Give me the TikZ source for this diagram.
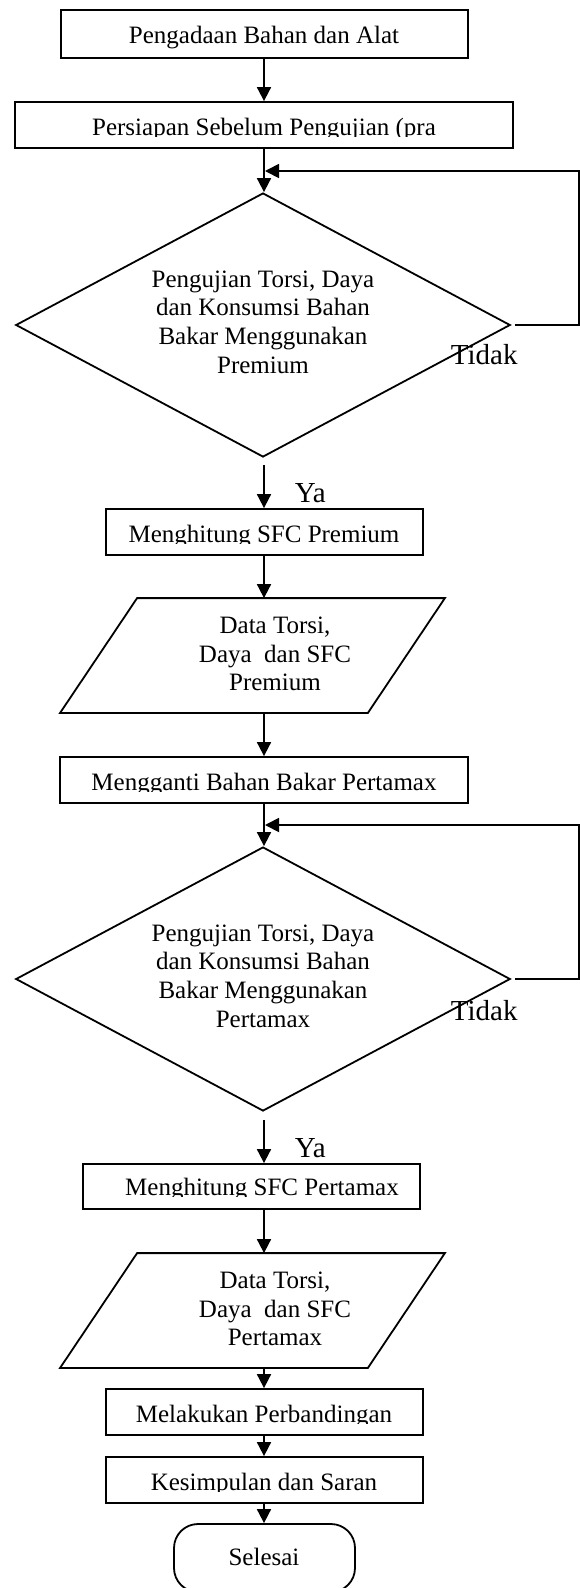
\documentclass[tikz,border=0pt]{standalone}
\usepackage{fontspec}
\setmainfont{Liberation Serif}
\usetikzlibrary{shapes.geometric,arrows.meta,calc}
\begin{document}
\begin{tikzpicture}[x=1pt,y=-1pt,
  line width=1.8pt,
  boxstyle/.style={draw, rectangle, inner sep=0pt},
  dec/.style={draw, diamond, inner sep=0pt, minimum width=494.5pt, minimum height=264pt},
  arr/.style={-{Triangle[length=14pt,width=14pt]}, line width=1.8pt},
  txt/.style={anchor=base, inner sep=0pt, font=\fontsize{25}{28.75}\selectfont},
  lbl/.style={anchor=base west, inner sep=0pt, font=\fontsize{29}{33}\selectfont},
  ghost/.style={inner sep=0pt, minimum width=383pt, minimum height=113pt},
]
\useasboundingbox (0,0) rectangle (580,1588);
\coordinate (X) at (264,0);

% boxes
\node[boxstyle, minimum width=407pt, minimum height=48pt] (b1) at (264.5,34) {};
\node[txt] (t1) at (264,43) {Pengadaan Bahan dan Alat};

\node[boxstyle, minimum width=498pt, minimum height=46pt] (b2) at (264,125) {};
\begin{scope}\clip (15,102) rectangle (513,136.5);
\node[txt] (t2) at (264,135) {Persiapan Sebelum Pengujian (pra};
\end{scope}

% decision 1
\node[dec] (d1) at (263,325) {};
\node[txt] (d1a) at (263,287) {Pengujian Torsi, Daya};
\node[txt] (d1b) at (263,315) {dan Konsumsi Bahan};
\node[txt] (d1c) at (263,344) {Bakar Menggunakan};
\node[txt] (d1d) at (263,373) {Premium};
\node[lbl] (no1) at (450,364) {Tidak};
\node[lbl] (yes1) at (294,502) {Ya};

\node[boxstyle, minimum width=317pt, minimum height=46pt] (b3) at (264.5,532) {};
\begin{scope}\clip (106,509) rectangle (423,543.5);
\node[txt] (t3) at (264,542) {Menghitung SFC Premium};
\end{scope}

% data 1
\node[ghost] (p1) at (252.5,655.5) {};
\draw (p1.south west) -- ([xshift=77pt]p1.north west) -- (p1.north east) -- ([xshift=-77pt]p1.south east) -- cycle;
\node[txt] (p1a) at (275,633) {Data Torsi,};
\node[txt] (p1b) at (275,662) {Daya~ dan SFC};
\node[txt] (p1c) at (275,690) {Premium};

\node[boxstyle, minimum width=408pt, minimum height=46pt] (b4) at (264,780) {};
\begin{scope}\clip (60,757) rectangle (468,791.5);
\node[txt] (t4) at (264,790) {Mengganti Bahan Bakar Pertamax};
\end{scope}

% decision 2
\node[dec] (d2) at (263,979) {};
\node[txt] (d2a) at (263,941) {Pengujian Torsi, Daya};
\node[txt] (d2b) at (263,969) {dan Konsumsi Bahan};
\node[txt] (d2c) at (263,998) {Bakar Menggunakan};
\node[txt] (d2d) at (263,1027) {Pertamax};
\node[lbl] (no2) at (450,1020) {Tidak};
\node[lbl] (yes2) at (294,1157) {Ya};

\node[boxstyle, minimum width=337pt, minimum height=45pt] (b5) at (251.5,1186.5) {};
\begin{scope}\clip (83,1164) rectangle (420,1196.5);
\node[txt] (t5) at (262,1195) {Menghitung SFC Pertamax};
\end{scope}

% data 2
\node[ghost] (p2) at (252.5,1310.5) {};
\draw (p2.south west) -- ([xshift=77pt]p2.north west) -- (p2.north east) -- ([xshift=-77pt]p2.south east) -- cycle;
\node[txt] (p2a) at (275,1288) {Data Torsi,};
\node[txt] (p2b) at (275,1317) {Daya~ dan SFC};
\node[txt] (p2c) at (275,1345) {Pertamax};

\node[boxstyle, minimum width=317pt, minimum height=46pt] (b6) at (264.5,1412) {};
\begin{scope}\clip (106,1389) rectangle (423,1423.5);
\node[txt] (t6) at (264,1422) {Melakukan Perbandingan};
\end{scope}

\node[boxstyle, minimum width=317pt, minimum height=46pt] (b7) at (264.5,1480) {};
\begin{scope}\clip (106,1457) rectangle (423,1491.5);
\node[txt] (t7) at (264,1490) {Kesimpulan dan Saran};
\end{scope}

\node[draw, rounded corners=24pt, minimum width=181pt, minimum height=68pt, inner sep=0pt] (end) at (264.5,1558) {};
\node[txt] (t8) at (264,1565) {Selesai};

% loop corners
\coordinate (L1a) at (579,171);
\coordinate (L1b) at (265,171);
\coordinate (L2a) at (579,825);
\coordinate (L2b) at (265,825);

% connectors
\draw[arr] (b1.south -| X) -- (b2.north -| X);
\draw[arr] (b2.south -| X) -- (d1.north -| X);
\draw[arr, shorten <=4pt] (d1.east) -| (L1a) -- (L1b);
\draw[arr, shorten <=7pt] (d1.south -| X) -- (b3.north -| X);
\draw[arr] (b3.south -| X) -- (p1.north -| X);
\draw[arr] (p1.south -| X) -- (b4.north -| X);
\draw[arr] (b4.south -| X) -- (d2.north -| X);
\draw[arr, shorten <=4pt] (d2.east) -| (L2a) -- (L2b);
\draw[arr, shorten <=8pt] (d2.south -| X) -- (b5.north -| X);
\draw[arr] (b5.south -| X) -- (p2.north -| X);
\draw[arr] (p2.south -| X) -- (b6.north -| X);
\draw[arr] (b6.south -| X) -- (b7.north -| X);
\draw[arr] (b7.south -| X) -- (end.north -| X);
\end{tikzpicture}
\end{document}
